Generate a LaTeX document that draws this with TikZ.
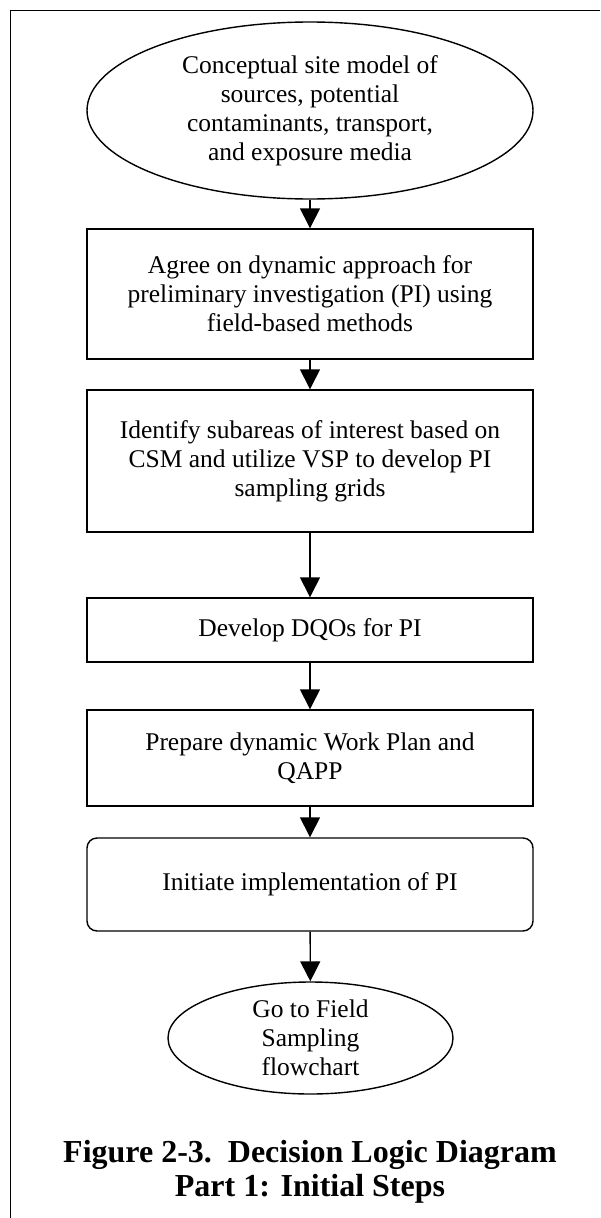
\documentclass[tikz,border=0pt]{standalone}
\usepackage{fontspec}
\setmainfont{Liberation Serif}
\usetikzlibrary{shapes.geometric,arrows.meta}
\begin{document}
\begin{tikzpicture}[x=1pt,y=-1pt,
    every node/.style={draw, line width=1.4pt, align=center, font=\fontsize{25.5}{29}\selectfont},
    box/.style={rectangle, minimum width=446pt, inner sep=0pt},
    oval/.style={ellipse, inner sep=-6pt},
    flow/.style={line width=1.4pt, -{Triangle[width=20pt,length=20pt]}}]
  \useasboundingbox (0,0) rectangle (600,1218);
  \draw[line width=1.4pt] (600,10.5) -- (10.5,10.5) -- (10.5,1218);

  % Start part
  \node[oval, minimum width=446pt, minimum height=177pt] (csm) at (310,110.5) {Conceptual site model of\\sources, potential\\contaminants, transport,\\and exposure media};

  % Steps
  \node[box, minimum height=130pt] (pi) at (310,294) {Agree on dynamic approach for\\preliminary investigation (PI) using\\field-based methods};
  \node[box, minimum height=142pt] (grid) at (310,461) {Identify subareas of interest based on\\CSM and utilize VSP to develop PI\\sampling grids};
  \node[box, minimum height=64pt] (dqo) at (310,630) {Develop DQOs for PI};
  \node[box, minimum height=96pt] (plan) at (310,758) {Prepare dynamic Work Plan and\\QAPP};
  \node[box, rounded corners=10pt, minimum height=93pt] (init) at (310,884.5) {Initiate implementation of PI};

  % End part
  \node[oval, minimum width=285pt, minimum height=112pt] (go) at (310.5,1038) {Go to Field\\Sampling\\flowchart};
  \node[draw=none, font=\bfseries\fontsize{32}{34}\selectfont] (cap) at (310,1172) {Figure 2-3.\ \ Decision Logic Diagram\\Part 1: Initial Steps};

  \draw[flow] (csm) -- (pi);
  \draw[flow] (pi) -- (grid);
  \draw[flow] (grid) -- (dqo);
  \draw[flow] (dqo) -- (plan);
  \draw[flow] (plan) -- (init);
  \draw[flow] (init) -- (go);
\end{tikzpicture}
\end{document}
